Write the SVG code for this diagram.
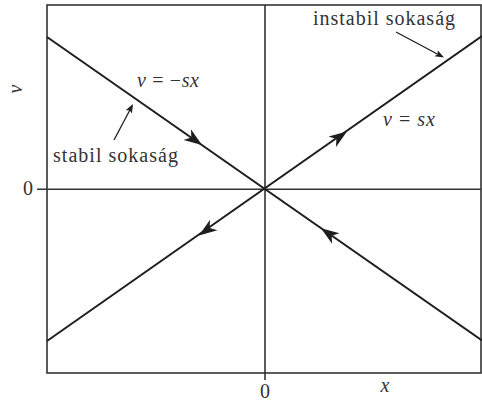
<svg xmlns="http://www.w3.org/2000/svg" width="482" height="402" viewBox="0 0 482 402">
<style>
.ax{stroke:#333;stroke-width:1.6;fill:none}
.ln{stroke:#1e1e1e;stroke-width:2;fill:none}
.ptr{stroke:#1e1e1e;stroke-width:1.3;fill:none}
text{font-family:"Liberation Serif","DejaVu Serif",serif;font-size:20px;fill:#333}
.i{font-style:italic}
</style>
<defs>
<path id="ah" d="M0,0 L-18,-6.5 L-13,0 L-18,6.5 Z" fill="#1e1e1e"/>
<path id="sh" d="M0,0 L-9,-3.5 L-7,0 L-9,3.5 Z" fill="#1e1e1e"/>
</defs>
<rect width="482" height="402" fill="#fff"/>
<g id="axes">
<rect class="ax" x="47" y="5" width="434" height="368"/>
<line class="ax" x1="265" y1="5" x2="265" y2="380"/>
<line class="ax" x1="37" y1="189.3" x2="481" y2="189.3"/>
</g>
<g id="connectors">
<line class="ln" x1="47" y1="37" x2="482" y2="340.5"/>
<line class="ln" x1="47" y1="341" x2="482" y2="36"/>
<use href="#ah" transform="translate(202,145) rotate(34.9)"/>
<use href="#ah" transform="translate(321,228.2) rotate(214.9)"/>
<use href="#ah" transform="translate(347,131.4) rotate(-35.1)"/>
<use href="#ah" transform="translate(199,235.4) rotate(144.9)"/>
<line class="ptr" x1="396" y1="32" x2="442" y2="56.5"/>
<use href="#sh" transform="translate(444,57.5) rotate(28)"/>
<line class="ptr" x1="114" y1="140" x2="132" y2="106"/>
<use href="#sh" transform="translate(133,104) rotate(-62)"/>
</g>
<g id="labels">
<text x="313" y="25" textLength="142" lengthAdjust="spacing">instabil sokaság</text>
<text x="53" y="162" textLength="125" lengthAdjust="spacing">stabil sokaság</text>
<text x="137" y="87" textLength="62" lengthAdjust="spacing"><tspan class="i">v</tspan> = −<tspan class="i">sx</tspan></text>
<text x="383" y="126" textLength="52" lengthAdjust="spacing"><tspan class="i">v</tspan> = <tspan class="i">sx</tspan></text>
<text class="i" transform="translate(22,89) rotate(-90)" text-anchor="middle">v</text>
<text x="28" y="195" text-anchor="middle">0</text>
<text x="265" y="398" text-anchor="middle">0</text>
<text class="i" x="385" y="392" text-anchor="middle">x</text>
</g>
</svg>
